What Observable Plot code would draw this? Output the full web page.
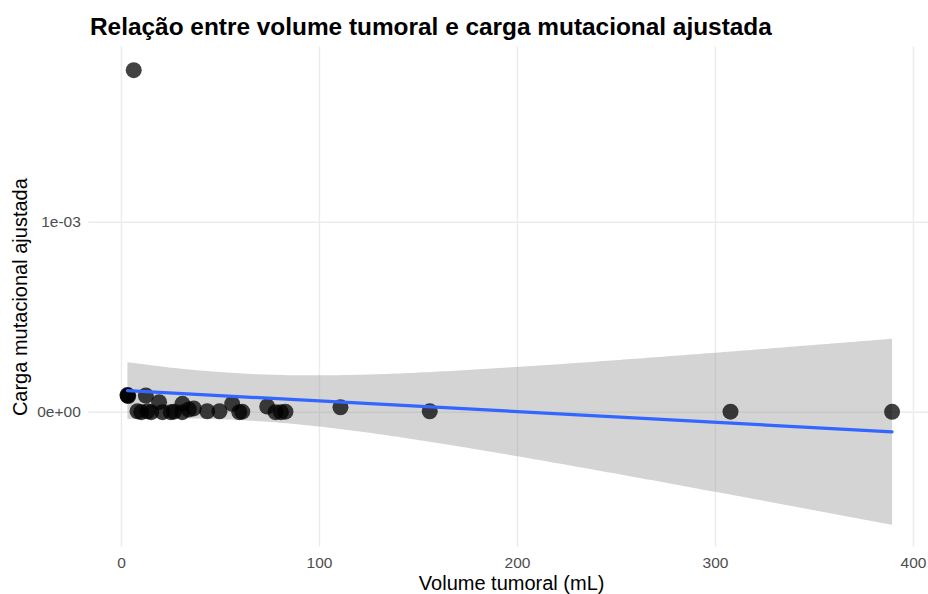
<!DOCTYPE html>
<html>
<head>
<meta charset="utf-8">
<script src="https://cdn.jsdelivr.net/npm/d3@7"></script>
<script src="https://cdn.jsdelivr.net/npm/@observablehq/plot@0.6"></script>
<style>
  body { margin: 0; background: #fff; font-family: "Liberation Sans", Arial, Helvetica, sans-serif; }
  #wrap { position: relative; width: 928px; height: 594px; }
  #title { position: absolute; left: 90px; top: 15px; font-size: 24.4px; font-weight: bold; color: #000; line-height: 1; white-space: nowrap; }
</style>
</head>
<body>
<div id="wrap">
  <div id="chart"></div>
  <div id="title">Relação entre volume tumoral e carga mutacional ajustada</div>
</div>
<script>
// Volume tumoral (mL)
const volume = [3.0, 3.2, 3.4, 6.2, 8.1, 10.0, 12.3, 13.1, 15.0, 19.0,
                20.7, 24.9, 26.5, 30.7, 30.8, 34.0, 36.5, 43.3, 49.5, 55.9,
                61.0, 59.5, 73.6, 77.8, 82.8, 80.5, 110.6, 155.7, 307.6, 389.2];
// Carga mutacional ajustada
const carga = [0.000090, 0.000088, 0.000085, 0.001800, 0.000005, 0.000000, 0.000088, 0.000005, 0.000000, 0.000053,
               0.000000, 0.000000, 0.000003, 0.000000, 0.000044, 0.000014, 0.000020, 0.000005, 0.000005, 0.000044,
               0.000003, 0.000000, 0.000030, 0.000000, 0.000003, 0.000000, 0.000026, 0.000005, 0.000003, 0.000002];
const xTicks = [0, 100, 200, 300, 400];
const yTicks = [0, 0.001];
const titleX = "Volume tumoral (mL)";
const titleY = "Carga mutacional ajustada";

const data = volume.map((v, i) => ({x: v, y: carga[i]}));

function sci(d) {
  const [m, e] = d.toExponential(0).split("e");
  const sign = e[0] === "-" ? "-" : "+";
  const digits = e.replace(/[+-]/, "").padStart(2, "0");
  return `${m}e${sign}${digits}`;
}

const font = '"Liberation Sans", Arial, Helvetica, sans-serif';

const chart = Plot.plot({
  width: 928,
  height: 594,
  marginLeft: 88.3,
  marginRight: 0,
  marginTop: 46.5,
  marginBottom: 47.2,
  style: {fontFamily: font, background: "transparent"},
  x: {domain: [-16.5, 407.6]},
  y: {domain: [-0.000711, 0.001922]},
  marks: [
    Plot.gridX({ticks: xTicks, stroke: "#ebebeb", strokeOpacity: 1, strokeWidth: 1.4}),
    Plot.gridY({ticks: yTicks, stroke: "#ebebeb", strokeOpacity: 1, strokeWidth: 1.4}),
    Plot.axisX({ticks: xTicks, tickSize: 0, tickPadding: 10, fontSize: 15.5, color: "#4d4d4d", label: null}),
    Plot.axisY({ticks: yTicks, tickSize: 0, tickPadding: 8, fontSize: 15.5, color: "#4d4d4d", label: null, tickFormat: sci}),
    Plot.linearRegressionY(data, {x: "x", y: "y", stroke: "none", fill: "#999999", fillOpacity: 0.42, ci: 0.95}),
    Plot.dot(data, {x: "x", y: "y", r: 8, fill: "#000", fillOpacity: 0.74, stroke: "none"}),
    Plot.linearRegressionY(data, {x: "x", y: "y", stroke: "#3366FF", strokeWidth: 3.2, ci: 0, fill: "none"}),
    Plot.text([titleX], {frameAnchor: "bottom", lineAnchor: "middle", textAnchor: "middle", dy: 36, dx: 3, fontSize: 20, fill: "#000"}),
    Plot.text([titleY], {frameAnchor: "left", lineAnchor: "middle", textAnchor: "middle", dx: -68.3, rotate: -90, fontSize: 20, fill: "#000"})
  ]
});
document.getElementById("chart").appendChild(chart);
</script>
</body>
</html>
